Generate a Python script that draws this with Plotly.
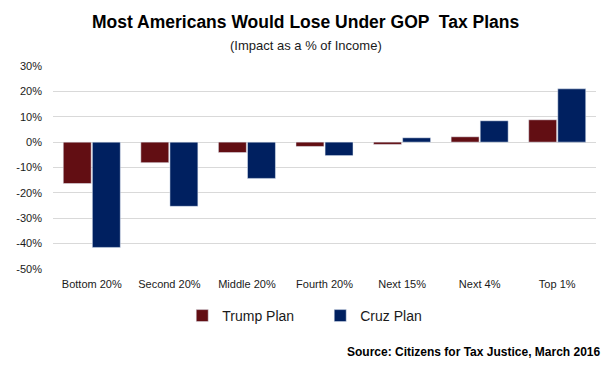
import plotly.graph_objects as go

categories = ["Bottom 20%", "Second 20%", "Middle 20%", "Fourth 20%", "Next 15%", "Next 4%", "Top 1%"]
trump = [-16.3, -8.1, -4.1, -1.7, -0.9, 2.1, 8.8]
cruz = [-41.5, -25.3, -14.3, -5.3, 1.7, 8.4, 21.0]
yticks = [30, 20, 10, 0, -10, -20, -30, -40, -50]
ytick_labels = ["30%", "20%", "10%", "0%", "-10%", "-20%", "-30%", "-40%", "-50%"]

fig = go.Figure()
fig.add_trace(go.Bar(x=categories, y=trump, name="Trump Plan", marker_color="#620e13"))
fig.add_trace(go.Bar(x=categories, y=cruz, name="Cruz Plan", marker_color="#002060"))

fam = "Liberation Sans, Arial"
PB = 269  # plot bottom (page px)
PH = 203  # plot height
PL = 53
PW = 543

def py(v):
    return (PB - v) / PH

def px(v):
    return (v - PL) / PW

fig.update_layout(
    width=603, height=364,
    margin=dict(l=45, r=15, t=58, b=103),
    paper_bgcolor="white", plot_bgcolor="white",
    barmode="group", bargap=0.25, bargroupgap=0.04,
    font=dict(family=fam, size=11, color="#1a1a1a"),
    showlegend=True,
    legend=dict(orientation="h", x=0.238, y=py(316), xanchor="left", yanchor="middle",
                font=dict(size=14, family=fam, color="#1a1a1a"),
                entrywidth=93, itemwidth=30, traceorder="normal"),
    xaxis=dict(showgrid=False, showline=False, ticks="", automargin=False,
               ticklabelstandoff=7, tickfont=dict(size=11, family=fam)),
    yaxis=dict(range=[-50, 30], tickvals=yticks, ticktext=ytick_labels, automargin=False,
               showgrid=True, gridcolor="#d9d9d9", gridwidth=1,
               zeroline=True, zerolinecolor="#d9d9d9", zerolinewidth=1,
               ticks="", ticklabelstandoff=10, tickfont=dict(size=11, family=fam)),
    annotations=[
        dict(text="<b>Most Americans Would Lose Under GOP  Tax Plans</b>", xref="paper", yref="paper",
             x=px(305.5), y=py(22), xanchor="center", yanchor="middle", showarrow=False,
             font=dict(size=17.5, family=fam, color="#000000")),
        dict(text="(Impact as a % of Income)", xref="paper", yref="paper",
             x=px(305.5), y=py(45), xanchor="center", yanchor="middle", showarrow=False,
             font=dict(size=13, family=fam, color="#1a1a1a")),
        dict(text="<b>Source: Citizens for Tax Justice, March 2016</b>", xref="paper", yref="paper",
             x=px(603), y=py(352), xanchor="right", yanchor="middle", showarrow=False,
             font=dict(size=12, family=fam, color="#000000")),
    ],
)
fig.write_html("out.html")
